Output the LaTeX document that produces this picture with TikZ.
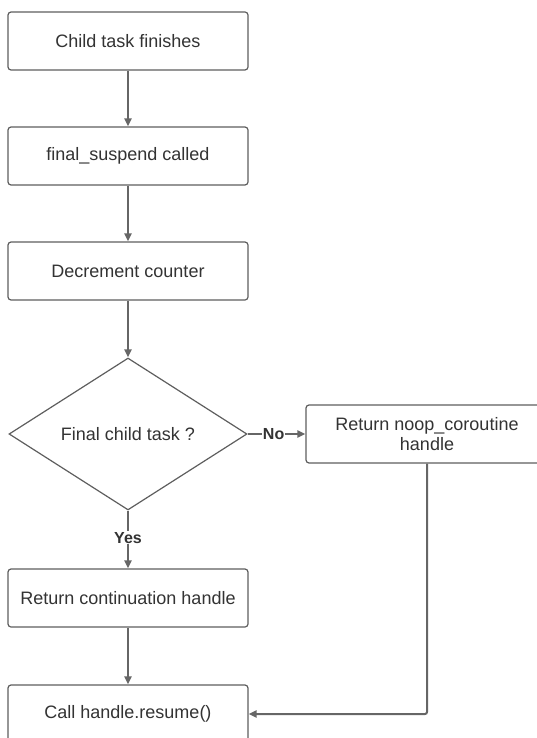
\documentclass[tikz,border=0pt]{standalone}
\usepackage{fontspec}
\setmainfont{Liberation Sans}
\usetikzlibrary{shapes.geometric,arrows.meta}
\definecolor{linec}{HTML}{666666}
\definecolor{boxc}{HTML}{5E5E5E}
\definecolor{txtc}{HTML}{333333}
\tikzset{
  procbox/.style={draw=boxc, line width=1.2pt, rounded corners=3pt, fill=white,
    minimum width=240pt, minimum height=58pt, inner sep=0pt, text=txtc,
    font=\fontsize{18}{20.5}\selectfont, align=center},
  decis/.style={draw=boxc, line width=1.2pt, shape=diamond, aspect=1.566, fill=white,
    minimum width=238pt, minimum height=152pt, inner sep=0pt, text=txtc,
    font=\fontsize{18}{20.5}\selectfont},
  conn/.style={draw=linec, line width=2pt, -{Triangle[length=8pt,width=7pt]}},
  lbl/.style={fill=white, text=txtc, font=\bfseries\fontsize{16}{18}\selectfont, inner sep=1pt}
}
\begin{document}
\begin{tikzpicture}[x=1pt,y=-1pt]
\useasboundingbox (0,0) rectangle (536,738);
\node[procbox] (b1) at (128,41) {Child task finishes};
\node[procbox] (b2) at (128,156) {final\_suspend called};
\node[procbox] (b3) at (128,271) {Decrement counter};
\node[decis] (d) at (128,434) {Final child task ?};
\node[procbox, minimum width=242pt] (n) at (427,434) {Return noop\_coroutine\\handle};
\node[procbox] (y) at (128,598) {Return continuation handle};
\node[procbox] (c) at (128,714) {Call handle.resume()};
\draw[conn] (b1.south) -- (b2.north);
\draw[conn] (b2.south) -- (b3.north);
\draw[conn] (b3.south) -- (d.north);
\draw[conn] (d.east) -- node[lbl, pos=0.45] {No} (n.west);
\draw[conn] (d.south) -- node[lbl, pos=0.47] {Yes} (y.north);
\draw[conn] (y.south) -- (c.north);
\draw[conn, rounded corners=2pt] (n.south) -- (n.south |- c.east) -- (c.east);
\end{tikzpicture}
\end{document}
